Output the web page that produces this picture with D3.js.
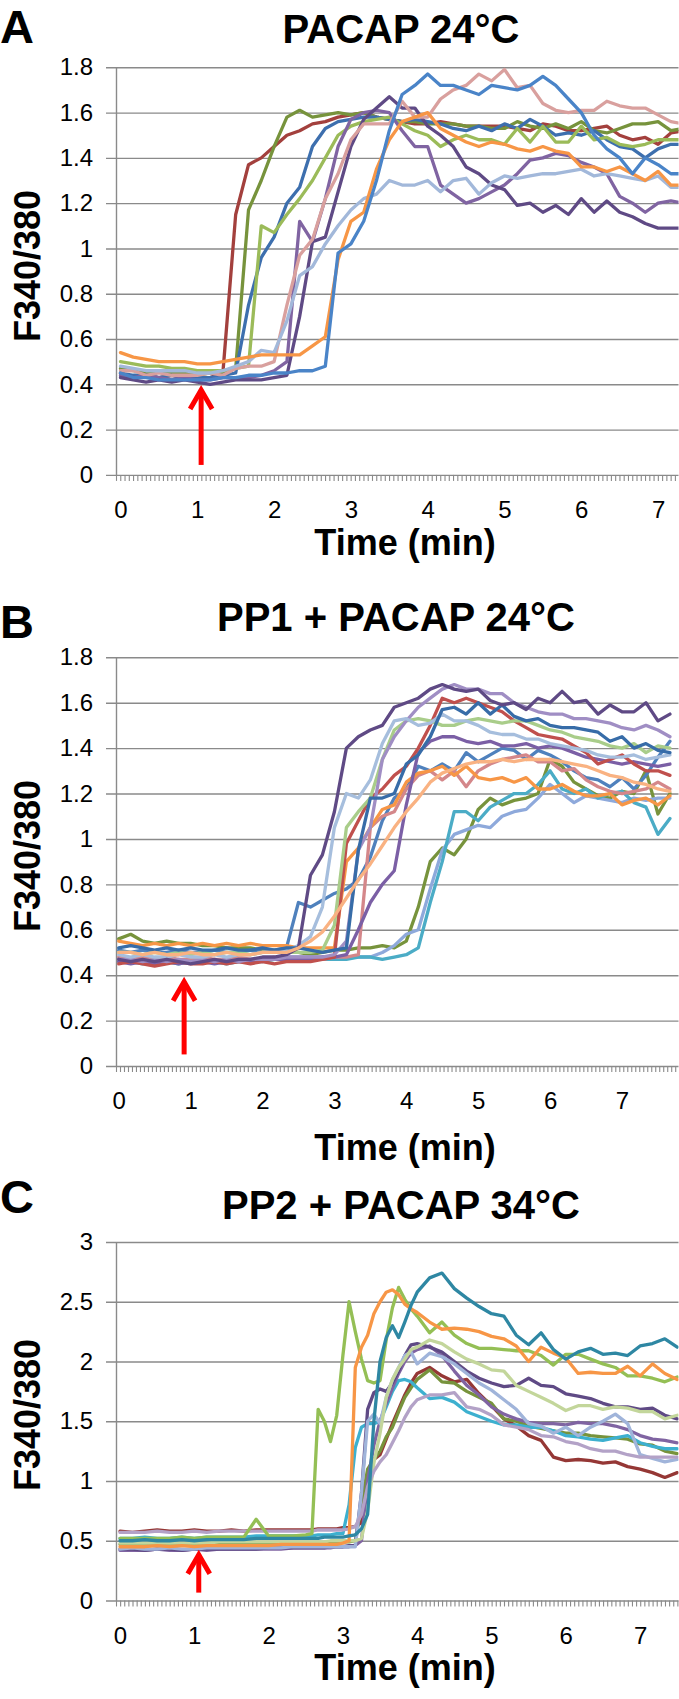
<!DOCTYPE html>
<html><head><meta charset="utf-8">
<script src="https://cdn.jsdelivr.net/npm/d3@7"></script>
<style>body{margin:0;background:#fff}svg{display:block}</style>
</head><body>
<svg id="chart" width="679" height="1699"></svg>
<script>
// ---------------- DATA ----------------
const panelLetters = ["A", "B", "C"];
const panelTitles = ["PACAP 24°C", "PP1 + PACAP 24°C", "PP2 + PACAP 34°C"];
const yAxisTitle = "F340/380";
const xAxisTitle = "Time (min)";
const xTickLabels = [0, 1, 2, 3, 4, 5, 6, 7];
const yTicksAB = [0, 0.2, 0.4, 0.6, 0.8, 1, 1.2, 1.4, 1.6, 1.8];
const yTicksC = [0, 0.5, 1, 1.5, 2, 2.5, 3];

// stimulus arrow (time, tip value, base value) per panel
const arrowTime = [1.05, 0.91, 1.06];
const arrowTip = [0.384, 0.38, 0.40];
const arrowBase = [0.044, 0.051, 0.066];

// ---- Panel A (PACAP 24°C) ----
const timesA = [0,0.167,0.333,0.5,0.667,0.833,1,1.167,1.333,1.5,1.667,1.833,2,2.167,2.333,2.5,2.667,2.833,3,3.167,3.333,3.5,3.667,3.833,4,4.167,4.333,4.5,4.667,4.833,5,5.167,5.333,5.5,5.667,5.833,6,6.167,6.333,6.5,6.667,6.833,7,7.167,7.333];
const A_darkRed = [.45,.43,.44,.43,.44,.43,.42,.43,.45, 1.15,1.37,1.40,1.45,1.50,1.52,1.55,1.56,1.58,1.59, 1.60,1.58,1.57,1.56,1.55,1.55,1.56,1.55,1.54,1.54, 1.54,1.54,1.53,1.52,1.55,1.54,1.52,1.52,1.53,1.54, 1.50,1.48,1.49,1.46,1.51,1.52];
const A_olive = [.47,.46,.45,.46,.45,.45,.44,.45,.45, .47,1.17,1.30,1.45,1.58,1.61,1.58,1.59,1.60,1.59, 1.60,1.58,1.57,1.56,1.56,1.55,1.55,1.55,1.54,1.54, 1.53,1.53,1.56,1.54,1.53,1.55,1.53,1.56,1.52,1.51, 1.53,1.55,1.55,1.56,1.52,1.53];
const A_steelBlue = [.45,.44,.44,.43,.44,.43,.43,.43,.44, .45,.75,.96,1.05,1.20,1.27,1.45,1.53,1.56,1.57, 1.58,1.58,1.57,1.56,1.57,1.56,1.55,1.53,1.52,1.54, 1.52,1.55,1.53,1.57,1.54,1.50,1.51,1.50,1.52,1.48, 1.45,1.44,1.40,1.44,1.46,1.46];
const A_lightGreen = [.50,.49,.48,.48,.47,.47,.46,.46,.46, .47,.48,1.10,1.07,1.15,1.22,1.30,1.40,1.50,1.54, 1.56,1.57,1.58,1.55,1.52,1.50,1.45,1.48,1.50,1.48, 1.48,1.46,1.53,1.47,1.54,1.47,1.47,1.54,1.48,1.49, 1.46,1.45,1.46,1.48,1.48,1.48];
const A_purple = [.44,.43,.44,.43,.42,.43,.42,.42,.43, .43,.43,.44,.46,.50,1.12,1.03,1.22,1.45,1.57, 1.60,1.61,1.60,1.52,1.45,1.45,1.28,1.24,1.20,1.22, 1.25,1.28,1.33,1.39,1.40,1.42,1.41,1.38,1.36,1.33, 1.23,1.20,1.16,1.20,1.21,1.20];
const A_darkPurple = [.43,.42,.41,.42,.41,.42,.41,.40,.41, .42,.42,.42,.43,.44,.70,1.03,1.05,1.25,1.45, 1.57,1.62,1.67,1.62,1.62,1.54,1.50,1.45,1.36,1.33, 1.28,1.26,1.19,1.20,1.16,1.19,1.15,1.22,1.16,1.21, 1.16,1.14,1.11,1.09,1.09,1.09];
const A_pink = [.46,.46,.44,.45,.44,.44,.44,.45,.44, .47,.48,.48,.50,.75,.97,1.04,1.22,1.33,1.48, 1.55,1.55,1.55,1.65,1.58,1.58,1.66,1.70,1.72,1.77, 1.74,1.79,1.71,1.72,1.64,1.61,1.60,1.61,1.61,1.65, 1.63,1.62,1.62,1.59,1.56,1.55];
const A_lightBlue = [.48,.47,.46,.46,.46,.46,.45,.45,.46, .48,.50,.55,.54,.68,.88,.92,1.02,1.10,1.17, 1.22,1.24,1.30,1.28,1.28,1.30,1.25,1.30,1.31,1.24, 1.29,1.32,1.31,1.32,1.33,1.33,1.34,1.35,1.32,1.33, 1.32,1.31,1.30,1.32,1.27,1.27];
const A_orange = [.54,.52,.51,.50,.50,.50,.49,.49,.50, .51,.52,.53,.53,.53,.53,.57,.61,.95,1.12, 1.16,1.35,1.48,1.56,1.58,1.60,1.53,1.50,1.47,1.45, 1.47,1.46,1.44,1.43,1.45,1.43,1.42,1.36,1.36,1.34, 1.36,1.33,1.30,1.34,1.28,1.28];
const A_blue = [.45,.43,.43,.42,.42,.42,.42,.42,.43, .43,.44,.44,.45,.45,.46,.46,.48,.98,1.02, 1.12,1.30,1.52,1.68,1.72,1.77,1.72,1.72,1.70,1.68, 1.72,1.71,1.70,1.72,1.76,1.72,1.66,1.60,1.50,1.44, 1.40,1.33,1.40,1.37,1.33,1.33];

// ---- Panel B (PP1 + PACAP 24°C) ----
const timesB = [0,0.167,0.333,0.5,0.667,0.833,1,1.167,1.333,1.5,1.667,1.833,2,2.167,2.333,2.5,2.667,2.833,3,3.167,3.333,3.5,3.667,3.833,4,4.167,4.333,4.5,4.667,4.833,5,5.167,5.333,5.5,5.667,5.833,6,6.167,6.333,6.5,6.667,6.833,7,7.167,7.333,7.5,7.667];
const B_darkPurple = [.47,.46,.47,.46,.47,.46,.45,.46,.47,.46,.47,.47,.48,.48,.49, .52,.84,.93,1.12,1.40,1.45,1.48,1.50,1.58,1.60, 1.62,1.66,1.68,1.66,1.65,1.66,1.61,1.59,1.60,1.57, 1.62,1.60,1.65,1.60,1.61,1.55,1.59,1.56,1.56,1.60, 1.52,1.55];
const B_lightBlue = [.49,.48,.49,.48,.48,.49,.48,.48,.49,.48,.49,.49,.50,.50,.51, .53,.57,.70,1.05,1.20,1.18,1.26,1.42,1.52,1.53, 1.50,1.51,1.55,1.52,1.52,1.50,1.47,1.46,1.46,1.44, 1.44,1.42,1.41,1.40,1.39,1.37,1.36,1.36,1.37,1.35, 1.36,1.37];
const B_paleGreen = [.50,.50,.49,.50,.49,.50,.49,.50,.49,.50,.50,.49,.50,.50,.50, .50,.50,.51,.62,1.05,1.12,1.18,1.35,1.48,1.52, 1.53,1.52,1.50,1.50,1.52,1.53,1.52,1.51,1.52,1.52, 1.50,1.48,1.47,1.45,1.44,1.43,1.41,1.40,1.42,1.38, 1.41,1.40];
const B_lavender = [.47,.47,.46,.47,.46,.47,.46,.47,.46,.47,.46,.47,.47,.47,.48, .48,.48,.48,.49,.55,.95,1.05,1.35,1.45,1.52, 1.58,1.62,1.66,1.68,1.66,1.66,1.64,1.64,1.60,1.58, 1.56,1.55,1.55,1.53,1.53,1.52,1.51,1.49,1.48,1.50, 1.48,1.45];
const B_red = [.45,.46,.45,.44,.45,.46,.45,.45,.46,.45,.46,.45,.46,.45,.46, .46,.46,.47,.48,.98,1.08,1.18,1.22,1.28,1.32, 1.40,1.50,1.62,1.60,1.62,1.60,1.58,1.56,1.52,1.49, 1.46,1.45,1.44,1.41,1.38,1.33,1.35,1.37,1.33,1.30, 1.30,1.28];
const B_darkBlue = [.52,.53,.52,.51,.52,.51,.52,.51,.51,.52,.51,.51,.52,.51,.52, .52,.51,.50,.51,.52,.95,1.18,1.18,1.20,1.33, 1.37,1.45,1.57,1.58,1.55,1.60,1.55,1.59,1.54,1.52, 1.53,1.50,1.49,1.49,1.48,1.47,1.43,1.45,1.40,1.42, 1.39,1.38];
const B_purple = [.46,.45,.46,.45,.46,.45,.46,.46,.45,.46,.46,.46,.47,.47,.47, .47,.47,.48,.48,.49,.60,.72,.80,.86,1.15, 1.38,1.43,1.45,1.45,1.43,1.42,1.43,1.41,1.41,1.42, 1.40,1.41,1.40,1.38,1.36,1.35,1.34,1.33,1.34,1.33, 1.32,1.33];
const B_orange = [.55,.54,.53,.54,.53,.54,.53,.54,.53,.54,.53,.54,.53,.53,.53, .52,.52,.52,.52,.90,.96,1.05,1.13,1.15,1.25, 1.29,1.30,1.32,1.28,1.32,1.27,1.26,1.27,1.25,1.27, 1.22,1.22,1.24,1.21,1.19,1.19,1.20,1.15,1.17,1.18, 1.15,1.19];
const B_pink = [.48,.47,.48,.47,.48,.47,.47,.48,.47,.47,.48,.47,.47,.48,.47, .47,.47,.47,.48,.48,.49,1.05,1.10,1.12,1.22, 1.28,1.30,1.26,1.30,1.23,1.30,1.33,1.35,1.36,1.37, 1.34,1.34,1.30,1.31,1.26,1.23,1.21,1.20,1.21,1.22, 1.25,1.22];
const B_blue = [.51,.50,.51,.50,.50,.51,.50,.50,.51,.50,.50,.51,.50,.51,.52, .72,.70,.73,.76,.78,.82,.92,1.08,1.18,1.22, 1.32,1.30,1.33,1.30,1.38,1.34,1.37,1.40,1.39,1.35, 1.39,1.37,1.34,1.30,1.27,1.26,1.23,1.27,1.22,1.28, 1.36,1.43];
const B_peach = [.50,.50,.49,.50,.49,.49,.50,.49,.49,.50,.49,.49,.50,.50,.50, .52,.55,.59,.66,.74,.82,.89,.97,1.05,1.12, 1.18,1.25,1.29,1.31,1.33,1.34,1.34,1.35,1.34,1.35, 1.35,1.35,1.34,1.33,1.32,1.30,1.28,1.27,1.25,1.24, 1.22,1.21];
const B_aqua = [.46,.46,.45,.46,.46,.45,.46,.46,.46,.45,.46,.46,.46,.47,.47, .47,.47,.47,.47,.47,.48,.48,.47,.48,.49, .52,.72,.90,1.12,1.12,1.08,1.14,1.17,1.20,1.20, 1.24,1.30,1.22,1.20,1.22,1.18,1.20,1.21,1.16,1.14, 1.02,1.09];
const B_periwinkle = [.47,.47,.46,.47,.47,.46,.47,.47,.46,.47,.47,.47,.47,.47,.48, .48,.48,.48,.48,.48,.48,.48,.50,.53,.58, .60,.78,.95,1.02,1.04,1.06,1.05,1.10,1.12,1.13, 1.18,1.24,1.20,1.16,1.19,1.18,1.17,1.16,1.18,1.17, 1.18,1.18];
const B_olive = [.56,.58,.55,.54,.55,.54,.54,.53,.53,.52,.52,.52,.51,.51,.51, .50,.49,.50,.51,.51,.52,.52,.53,.52,.55, .70,.90,.96,.93,1.00,1.13,1.18,1.15,1.17,1.18, 1.20,1.35,1.32,1.25,1.22,1.19,1.18,1.21,1.20,1.30, 1.11,1.20];

// ---- Panel C (PP2 + PACAP 34°C) ----
const timesC = [0,0.167,0.333,0.5,0.667,0.833,1,1.167,1.333,1.5,1.667,1.833,2,2.167,2.333,2.5,
  2.583,2.667,2.75,2.833,2.917,3,3.083,3.167,3.25,3.333,3.417,3.5,3.583,3.667,3.75,3.833,3.917,4,
  4.167,4.333,4.5,4.667,4.833,5,5.167,5.333,5.5,5.667,5.833,6,6.167,6.333,6.5,6.667,6.833,7,7.167,7.333,7.5];
const C_teal = [.50,.50,.51,.50,.50,.51,.50,.51,.51,.51,.51,.52,.52,.52,.52,.52, .52,.52,.53,.53,.53,.53,.54,.55,.60,.72,1.50,2.00,2.20,2.30,2.20,2.33,2.47,2.58, 2.70,2.74,2.61,2.53,2.46,2.40,2.38,2.22,2.14,2.24,2.10,2.02,2.08,2.11,2.06,2.07,2.05,2.13,2.15,2.19,2.12];
const C_orange = [.45,.45,.45,.46,.45,.46,.45,.46,.46,.46,.46,.46,.46,.47,.47,.47, .47,.47,.47,.47,.47,.48,.50,1.95,2.12,2.22,2.40,2.50,2.58,2.60,2.56,2.48,2.44,2.41, 2.33,2.27,2.28,2.27,2.25,2.21,2.19,2.13,2.00,2.12,2.07,2.03,1.90,1.91,1.90,1.90,1.96,1.88,1.98,1.90,1.85];
const C_green = [.52,.52,.52,.52,.52,.53,.52,.53,.53,.53,.53,.68,.54,.54,.54,.55, .56,1.60,1.50,1.33,1.55,2.05,2.50,2.25,2.02,1.84,1.82,1.84,2.18,2.45,2.62,2.52,2.44,2.38, 2.24,2.33,2.22,2.15,2.11,2.11,2.10,2.09,2.09,2.05,1.97,2.06,2.06,2.02,1.98,1.95,1.88,1.88,1.86,1.83,1.87];
const C_darkPurple = [.43,.43,.42,.43,.43,.42,.43,.43,.43,.43,.43,.43,.44,.44,.44,.44, .44,.44,.44,.45,.45,.45,.46,.46,.90,1.60,1.74,1.77,1.75,1.82,1.92,2.05,2.14,2.15, 2.12,2.08,2.00,1.92,1.86,1.82,1.79,1.80,1.86,1.80,1.79,1.73,1.71,1.69,1.65,1.62,1.62,1.60,1.61,1.55,1.52];
const C_purple = [.42,.42,.42,.43,.42,.42,.43,.42,.43,.43,.43,.43,.43,.43,.44,.44, .44,.44,.44,.44,.45,.45,.45,.46,.50,1.00,1.30,1.50,1.65,1.78,1.90,2.00,2.07,2.10, 2.13,2.05,1.92,1.80,1.72,1.62,1.56,1.52,1.49,1.48,1.48,1.47,1.49,1.48,1.48,1.46,1.43,1.38,1.35,1.34,1.32];
const C_sage = [.48,.48,.48,.48,.48,.48,.48,.48,.49,.49,.49,.49,.49,.49,.49,.49, .49,.49,.49,.50,.50,.50,.50,.50,.52,.75,1.15,1.40,1.70,1.85,1.95,2.02,2.10,2.12, 2.18,2.15,2.08,2.02,1.98,1.93,1.92,1.80,1.75,1.70,1.65,1.59,1.63,1.63,1.60,1.62,1.61,1.58,1.58,1.52,1.55];
const C_periwinkle = [.43,.44,.43,.43,.44,.43,.43,.44,.44,.44,.44,.44,.44,.44,.45,.45, .45,.45,.45,.45,.45,.45,.45,.45,.90,1.50,1.56,1.48,1.70,1.85,1.95,2.05,2.08,1.98, 2.07,2.04,1.98,1.90,1.82,1.76,1.68,1.60,1.48,1.46,1.40,1.45,1.38,1.45,1.50,1.56,1.48,1.22,1.19,1.16,1.18];
const C_aqua = [.52,.52,.53,.52,.52,.53,.52,.53,.53,.53,.53,.54,.54,.54,.54,.54, .54,.55,.55,.55,.56,.56,.80,1.28,1.45,1.48,1.48,1.50,1.62,1.75,1.84,1.85,1.83,1.78, 1.69,1.70,1.66,1.58,1.54,1.50,1.47,1.47,1.45,1.45,1.42,1.38,1.37,1.35,1.34,1.36,1.38,1.32,1.29,1.27,1.27];
const C_olive = [.47,.47,.47,.47,.47,.47,.47,.47,.47,.48,.48,.48,.48,.48,.48,.48, .48,.48,.48,.49,.49,.49,.49,.50,.80,1.10,1.18,1.25,1.37,1.45,1.58,1.70,1.78,1.85, 1.93,1.83,1.82,1.75,1.70,1.65,1.52,1.50,1.46,1.44,1.42,1.40,1.40,1.38,1.37,1.36,1.35,1.31,1.30,1.25,1.23];
const C_darkRed = [.58,.57,.58,.59,.58,.58,.59,.58,.58,.59,.58,.59,.59,.59,.59,.59, .59,.60,.60,.60,.60,.61,.61,.62,.65,1.00,1.18,1.22,1.35,1.48,1.60,1.72,1.82,1.90, 1.95,1.88,1.83,1.85,1.73,1.63,1.52,1.46,1.38,1.34,1.20,1.17,1.18,1.17,1.15,1.16,1.12,1.10,1.07,1.03,1.07];
const C_lavender = [.57,.57,.57,.58,.57,.57,.58,.57,.58,.58,.58,.58,.58,.58,.58,.58, .58,.59,.59,.59,.59,.59,.60,.62,.72,.95,1.08,1.16,1.22,1.32,1.42,1.53,1.62,1.68, 1.72,1.72,1.74,1.62,1.60,1.55,1.47,1.45,1.43,1.38,1.37,1.33,1.31,1.27,1.25,1.25,1.22,1.20,1.20,1.20,1.20];

// ---------------- LAYOUT / STYLE ----------------
const panels = [
  { times: timesA, ymax: 1.8, yTicks: yTicksAB, yTop: 67.3, yBottom: 474.9, t0: -0.0586, t1: 7.266,
    letterY: 43, titleX: 401, titleY: 43, xTitleY: 555, yTitleCY: 266,
    series: [
      [A_darkRed, "#A3403D"], [A_olive, "#77933C"], [A_steelBlue, "#3D6FAE"], [A_lightGreen, "#9BBB59"],
      [A_purple, "#8064A2"], [A_darkPurple, "#5F4A85"], [A_pink, "#D9A09E"], [A_lightBlue, "#A2B8DA"],
      [A_orange, "#F79646"], [A_blue, "#4A84C8"] ] },
  { times: timesB, ymax: 1.8, yTicks: yTicksAB, yTop: 657.3, yBottom: 1066, t0: -0.0375, t1: 7.786,
    letterY: 638, titleX: 396, titleY: 631, xTitleY: 1160, yTitleCY: 856,
    series: [
      [B_olive, "#77933C"], [B_periwinkle, "#8EA9DB"], [B_aqua, "#4BACC6"], [B_blue, "#4F81BD"],
      [B_pink, "#D4878A"], [B_orange, "#F79646"], [B_purple, "#7B5FA5"], [B_red, "#C0504D"],
      [B_paleGreen, "#A9CD8A"], [B_lavender, "#A08EC4"], [B_lightBlue, "#A6BEDD"], [B_darkBlue, "#376CA8"],
      [B_darkPurple, "#5F4A85"], [B_peach, "#F9B282"] ] },
  { times: timesC, ymax: 3, yTicks: yTicksC, yTop: 1242, yBottom: 1600.5, t0: -0.0538, t1: 7.517,
    letterY: 1213, titleX: 401, titleY: 1219, xTitleY: 1680, yTitleCY: 1415,
    series: [
      [C_darkRed, "#953735"], [C_olive, "#77933C"], [C_aqua, "#3DB0CF"], [C_purple, "#8064A2"],
      [C_darkPurple, "#5F4A85"], [C_periwinkle, "#A0B4DA"], [C_sage, "#C3D69B"], [C_lavender, "#B3A2C7"],
      [C_green, "#94BF55"], [C_orange, "#F79646"], [C_teal, "#2E87A3"] ] }
];

const FONT = "'Liberation Sans', Arial, Helvetica, sans-serif";
const GRID = "#8a8a8a";
const X_LEFT = 116, X_RIGHT = 678.5, TICK_LEFT = 106;

const svg = d3.select("#chart");
svg.append("rect").attr("width", 679).attr("height", 1699).attr("fill", "#fff");

panels.forEach((p, i) => {
  const g = svg.append("g");
  const x = d3.scaleLinear().domain([p.t0, p.t1]).range([X_LEFT, X_RIGHT]);
  const y = d3.scaleLinear().domain([0, p.ymax]).range([p.yBottom, p.yTop]);

  // horizontal gridlines (extend left as major ticks)
  const grid = g.append("g").attr("transform", `translate(${TICK_LEFT},0)`)
    .call(d3.axisRight(y).tickValues(p.yTicks).tickSize(X_RIGHT - TICK_LEFT).tickFormat(""));
  grid.select(".domain").remove();
  grid.selectAll(".tick line").attr("stroke", GRID).attr("stroke-width", 1.4);

  // y axis with labels
  const fmt = d => String(+d.toFixed(1));
  const ya = g.append("g").attr("transform", `translate(${X_LEFT},0)`)
    .call(d3.axisLeft(y).tickValues(p.yTicks).tickSize(0).tickSizeOuter(0).tickPadding(23).tickFormat(fmt));
  ya.select(".domain").attr("stroke", GRID).attr("stroke-width", 1.4);
  ya.selectAll("text").attr("font-family", FONT).attr("font-size", 24).attr("fill", "#000");

  // minor category ticks along the bottom
  const minor = d3.range(p.t0, p.t1 + 1e-6, 1 / 18);
  const xm = g.append("g").attr("transform", `translate(0,${y(0)})`)
    .call(d3.axisBottom(x).tickValues(minor).tickSize(6).tickSizeOuter(0).tickFormat(""));
  xm.select(".domain").remove();
  xm.selectAll(".tick line").attr("stroke", GRID).attr("stroke-width", 1.1);

  // x labels
  const xl = g.append("g").attr("transform", `translate(0,${y(0)})`)
    .call(d3.axisBottom(x).tickValues(xTickLabels).tickSize(0).tickPadding(26).tickFormat(d3.format("d")));
  xl.select(".domain").remove();
  xl.selectAll("text").attr("font-family", FONT).attr("font-size", 24).attr("fill", "#000");

  // clip
  const clipId = "clip" + i;
  svg.append("clipPath").attr("id", clipId).append("rect")
    .attr("x", X_LEFT).attr("y", p.yTop - 40).attr("width", X_RIGHT - X_LEFT).attr("height", p.yBottom - p.yTop + 40);

  const line = d3.line().x((d, k) => x(p.times[k])).y(d => y(d));
  g.append("g").attr("clip-path", `url(#${clipId})`)
    .selectAll("path").data(p.series).join("path")
    .attr("d", s => line(s[0]))
    .attr("fill", "none").attr("stroke", s => s[1])
    .attr("stroke-width", 3.3).attr("stroke-linejoin", "round").attr("stroke-linecap", "round");

  // red arrow
  const ax = x(arrowTime[i]), tipY = y(arrowTip[i]), baseY = y(arrowBase[i]);
  g.append("line").attr("x1", ax).attr("x2", ax).attr("y1", baseY).attr("y2", tipY + 2)
    .attr("stroke", "#ff0000").attr("stroke-width", 5);
  g.append("path").attr("d", `M${ax - 11},${tipY + 21}L${ax},${tipY + 2}L${ax + 11},${tipY + 21}`)
    .attr("fill", "none").attr("stroke", "#ff0000").attr("stroke-width", 5).attr("stroke-linejoin", "miter");

  // texts
  g.append("text").attr("x", 0).attr("y", p.letterY).text(panelLetters[i])
    .attr("font-family", FONT).attr("font-weight", "bold").attr("font-size", 47);
  g.append("text").attr("x", p.titleX).attr("y", p.titleY).attr("text-anchor", "middle").text(panelTitles[i])
    .attr("font-family", FONT).attr("font-weight", "bold").attr("font-size", 40);
  g.append("text").attr("x", 405).attr("y", p.xTitleY).attr("text-anchor", "middle").text(xAxisTitle)
    .attr("font-family", FONT).attr("font-weight", "bold").attr("font-size", 36);
  g.append("text").attr("transform", `translate(40,${p.yTitleCY}) rotate(-90)`).attr("text-anchor", "middle")
    .text(yAxisTitle).attr("font-family", FONT).attr("font-weight", "bold").attr("font-size", 36);
});
</script>
</body></html>
